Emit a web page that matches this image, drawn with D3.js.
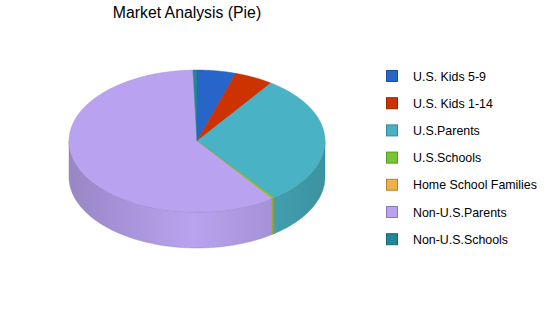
<!DOCTYPE html>
<html><head><meta charset="utf-8">
<script src="https://cdn.jsdelivr.net/npm/d3@7"></script>
<style>body{margin:0;background:#fff}svg{display:block}</style>
</head><body><svg id="c" width="550" height="318"></svg>
<script>
const categories = ["U.S. Kids 5-9","U.S. Kids 1-14","U.S.Parents","U.S.Schools","Home School Families","Non-U.S.Parents","Non-U.S.Schools"];
const values = [4.9, 4.9, 29.9, 0.3, 0.1, 59.4, 0.5];
const colors = ["#2766c8","#cc3300","#49b2c4","#76c733","#eeb04a","#b9a3f0","#228899"];
const title = "Market Analysis (Pie)";

const svg = d3.select("#c");
const cx = 197, cy = 141, rx = 128, ry = 71, depth = 36;

const pie = d3.pie().sort(null).value(d => d.v);
const arcs = pie(categories.map((c,i)=>({c, v: values[i], col: colors[i]})));

const pt = (a, dy=0) => [cx + rx*Math.sin(a), cy - ry*Math.cos(a) + dy];
const line = d3.line();
const defs = svg.append("defs");

// side walls
arcs.forEach((d,i) => {
  const s = Math.max(d.startAngle, Math.PI/2), e = Math.min(d.endAngle, 3*Math.PI/2);
  if (e <= s) return;
  const base = d3.color(d.data.col);
  const g = defs.append("linearGradient").attr("id","g"+i)
    .attr("gradientUnits","userSpaceOnUse").attr("x1",cx-rx).attr("x2",cx+rx).attr("y1",0).attr("y2",0);
  g.append("stop").attr("offset",0).attr("stop-color",base.darker(0.55));
  g.append("stop").attr("offset",0.48).attr("stop-color",base);
  g.append("stop").attr("offset",1).attr("stop-color",base.darker(0.55));
  const n = Math.max(2, Math.ceil((e-s)/0.01));
  const top = d3.range(n+1).map(k => pt(s + (e-s)*k/n));
  const bot = d3.range(n+1).map(k => pt(e - (e-s)*k/n, depth));
  svg.append("path").attr("d", line(top.concat(bot)) + "Z")
    .attr("fill", `url(#g${i})`)
    .attr("stroke", base.darker(0.7)).attr("stroke-width",0.4);
});

// top faces
arcs.forEach(d => {
  const s = d.startAngle, e = d.endAngle;
  const n = Math.max(2, Math.ceil((e-s)/0.01));
  const p = [[cx,cy]].concat(d3.range(n+1).map(k => pt(s + (e-s)*k/n)));
  const base = d3.color(d.data.col);
  svg.append("path").attr("d", line(p) + "Z")
    .attr("fill", d.data.col)
    .attr("stroke", base.darker(0.4)).attr("stroke-width",0.4).attr("stroke-linejoin","round");
});

// title
svg.append("text").attr("x",187).attr("y",18).attr("text-anchor","middle")
  .attr("font-family","Liberation Sans, Arial, sans-serif").attr("font-size",15.8).attr("fill","#000")
  .text(title);

// legend
const lg = svg.append("g");
categories.forEach((c,i) => {
  const y = 70 + i*27.2;
  lg.append("rect").attr("x",386.5).attr("y",y+0.5).attr("width",11).attr("height",11)
    .attr("fill",colors[i]).attr("stroke",d3.color(colors[i]).darker(0.8)).attr("stroke-width",1);
  lg.append("text").attr("x",413).attr("y",y+10.5)
    .attr("font-family","Liberation Sans, Arial, sans-serif").attr("font-size",12.4).attr("fill","#000")
    .text(c);
});
</script></body></html>
